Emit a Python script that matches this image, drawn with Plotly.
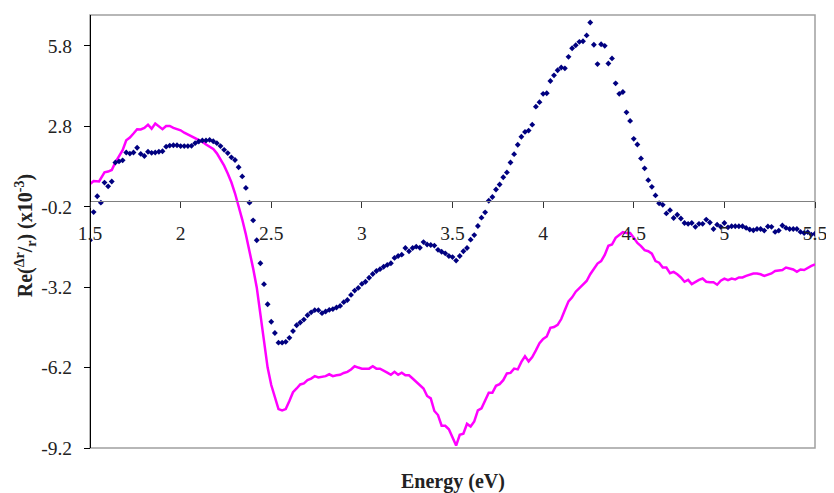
import plotly.graph_objects as go

# ---- Data ----
# Measured series (navy diamonds): energy grid 1.50 .. 5.50 step 0.02
meas_x = [round(1.50 + 0.02 * i, 2) for i in range(201)]
meas_y = [
    -1.45, -0.40, 0.19, -0.05, 0.70, 0.56, 0.74, 1.45, 1.49, 1.53,
    1.82, 1.78, 1.82, 2.00, 1.77, 1.69, 1.85, 1.81, 1.82, 1.85,
    1.87, 2.04, 2.08, 2.09, 2.09, 2.06, 2.06, 2.06, 2.07, 2.17,
    2.23, 2.27, 2.27, 2.29, 2.24, 2.17, 2.06, 1.92, 1.80, 1.64,
    1.54, 1.27, 0.93, 0.50, -0.05, -0.71, -1.45, -2.31, -3.09, -3.84,
    -4.49, -4.91, -5.27, -5.27, -5.24, -5.09, -4.84, -4.62, -4.52, -4.41,
    -4.25, -4.14, -4.06, -4.06, -4.17, -4.11, -4.05, -4.02, -3.96, -3.90,
    -3.76, -3.68, -3.49, -3.33, -3.23, -3.08, -3.00, -2.85, -2.71, -2.60,
    -2.53, -2.44, -2.37, -2.31, -2.11, -2.04, -1.99, -1.74, -1.86, -1.74,
    -1.69, -1.73, -1.52, -1.61, -1.63, -1.65, -1.81, -1.88, -1.94, -2.04,
    -2.08, -2.21, -2.04, -1.86, -1.74, -1.43, -1.26, -0.92, -0.61, -0.41,
    0.02, 0.16, 0.44, 0.63, 0.90, 1.08, 1.45, 1.76, 2.11, 2.41,
    2.59, 2.64, 2.86, 3.53, 3.70, 4.01, 4.03, 4.49, 4.70, 4.89,
    4.99, 4.96, 5.39, 5.71, 5.82, 5.95, 5.97, 6.19, 6.67, 5.84,
    5.12, 5.86, 5.80, 5.14, 5.33, 4.40, 4.01, 4.08, 3.32, 3.00,
    2.33, 2.12, 1.60, 1.23, 0.79, 0.54, 0.22, -0.07, -0.13, -0.45,
    -0.33, -0.62, -0.50, -0.64, -0.81, -0.84, -0.81, -0.95, -0.84, -0.84,
    -0.68, -0.79, -1.03, -0.87, -0.95, -0.81, -0.97, -0.93, -0.93, -0.93,
    -0.93, -0.99, -1.05, -1.08, -1.03, -1.03, -1.09, -0.94, -0.95, -1.14,
    -1.09, -0.90, -0.99, -1.03, -1.03, -1.03, -1.14, -1.18, -1.15, -1.24,
    -1.21,
]

# Calculated series (magenta line)
calc_x = [
    1.50, 1.52, 1.55, 1.57, 1.58, 1.60, 1.62, 1.64, 1.66, 1.68,
    1.70, 1.72, 1.74, 1.76, 1.78, 1.80, 1.82, 1.84, 1.86, 1.88,
    1.90, 1.92, 1.94, 1.96, 1.98, 2.00, 2.02, 2.04, 2.06, 2.08,
    2.10, 2.12, 2.14, 2.16, 2.18, 2.20, 2.22, 2.24, 2.26, 2.28,
    2.30, 2.32, 2.34, 2.36, 2.38, 2.40, 2.42, 2.44, 2.46, 2.48,
    2.50, 2.52, 2.54, 2.56, 2.58, 2.60, 2.62, 2.64, 2.66, 2.68,
    2.70, 2.72, 2.74, 2.76, 2.78, 2.80, 2.82, 2.84, 2.86, 2.88,
    2.90, 2.92, 2.94, 2.96, 2.98, 3.00, 3.02, 3.04, 3.06, 3.08,
    3.10, 3.12, 3.14, 3.16, 3.18, 3.20, 3.22, 3.24, 3.26, 3.28,
    3.30, 3.32, 3.34, 3.36, 3.38, 3.40, 3.42, 3.44, 3.46, 3.48,
    3.50, 3.52, 3.54, 3.56, 3.58, 3.60, 3.62, 3.64, 3.66, 3.68,
    3.70, 3.72, 3.74, 3.76, 3.78, 3.80, 3.82, 3.84, 3.86, 3.88,
    3.90, 3.92, 3.94, 3.96, 3.98, 4.00, 4.02, 4.04, 4.06, 4.08,
    4.10, 4.12, 4.14, 4.16, 4.18, 4.20, 4.22, 4.24, 4.26, 4.28,
    4.30, 4.32, 4.34, 4.36, 4.38, 4.40, 4.42, 4.44, 4.46, 4.48,
    4.50, 4.52, 4.54, 4.56, 4.58, 4.60, 4.62, 4.64, 4.66, 4.68,
    4.70, 4.72, 4.74, 4.76, 4.78, 4.80, 4.82, 4.84, 4.86, 4.88,
    4.90, 4.92, 4.94, 4.96, 4.98, 5.00, 5.02, 5.04, 5.06, 5.08,
    5.10, 5.12, 5.14, 5.16, 5.18, 5.20, 5.22, 5.24, 5.26, 5.28,
    5.30, 5.32, 5.34, 5.36, 5.38, 5.40, 5.42, 5.44, 5.46, 5.48,
    5.50,
]
calc_y = [
    0.64, 0.76, 0.74, 0.96, 1.08, 1.11, 1.17, 1.45, 1.66, 1.91,
    2.28, 2.38, 2.53, 2.69, 2.68, 2.74, 2.86, 2.71, 2.90, 2.81,
    2.69, 2.81, 2.81, 2.74, 2.69, 2.65, 2.56, 2.49, 2.43, 2.34,
    2.30, 2.22, 2.12, 2.03, 1.95, 1.79, 1.56, 1.33, 1.04, 0.71,
    0.30, -0.15, -0.68, -1.24, -1.85, -2.50, -3.21, -4.25, -5.30, -6.20,
    -6.85, -7.29, -7.75, -7.80, -7.75, -7.45, -7.12, -6.98, -6.83, -6.79,
    -6.67, -6.61, -6.52, -6.57, -6.54, -6.52, -6.45, -6.52, -6.49, -6.47,
    -6.40, -6.36, -6.27, -6.15, -6.20, -6.24, -6.24, -6.24, -6.15, -6.24,
    -6.24, -6.33, -6.39, -6.47, -6.36, -6.47, -6.39, -6.49, -6.49, -6.61,
    -6.73, -6.86, -6.98, -7.26, -7.35, -7.82, -7.97, -8.37, -8.37, -8.50,
    -8.79, -9.11, -8.71, -8.67, -8.30, -8.40, -8.21, -7.80, -7.72, -7.44,
    -7.14, -7.14, -6.88, -6.82, -6.67, -6.42, -6.40, -6.24, -6.27, -5.99,
    -5.78, -5.97, -5.81, -5.56, -5.29, -5.13, -5.04, -4.72, -4.69, -4.61,
    -4.39, -4.05, -3.73, -3.58, -3.37, -3.24, -3.11, -2.97, -2.72, -2.50,
    -2.32, -2.23, -2.00, -1.66, -1.61, -1.36, -1.24, -1.15, -1.18, -1.18,
    -1.36, -1.55, -1.67, -1.82, -1.86, -1.95, -2.23, -2.29, -2.47, -2.47,
    -2.68, -2.63, -2.72, -2.84, -3.00, -2.93, -3.09, -3.00, -2.93, -2.88,
    -3.00, -3.02, -3.02, -3.11, -2.96, -2.88, -2.94, -2.88, -2.91, -2.84,
    -2.84, -2.78, -2.74, -2.69, -2.69, -2.72, -2.78, -2.74, -2.69, -2.60,
    -2.57, -2.56, -2.47, -2.51, -2.54, -2.63, -2.54, -2.56, -2.47, -2.41,
    -2.35,
]

x_tickvals = [1.5, 2, 2.5, 3, 3.5, 4, 4.5, 5, 5.5]
x_ticktext = ["1.5", "2", "2.5", "3", "3.5", "4", "4.5", "5", "5.5"]
y_tickvals = [-9.2, -6.2, -3.2, -0.2, 2.8, 5.8]
y_ticktext = ["-9.2", "-6.2", "-3.2", "-0.2", "2.8", "5.8"]

Y_MIN, Y_MAX = -9.2, 6.95
X_MIN, X_MAX = 1.5, 5.5

FONT = "Liberation Serif, Times New Roman, serif"

fig = go.Figure()
fig.add_trace(go.Scatter(
    x=calc_x, y=calc_y, mode="lines",
    line=dict(color="#FF00FF", width=2.5),
    showlegend=False,
))
fig.add_trace(go.Scatter(
    x=meas_x, y=meas_y, mode="markers",
    marker=dict(symbol="diamond", size=4.5, color="#000080", line=dict(width=0)),
    showlegend=False,
))

zero_pos = (0 - Y_MIN) / (Y_MAX - Y_MIN)

# The page body has an 8px default margin; the figure size/margins compensate
fig.update_layout(
    width=826, height=485,
    margin=dict(l=82, r=13, t=7, b=45, pad=0),
    paper_bgcolor="white", plot_bgcolor="white",
    font=dict(family=FONT, size=19.5, color="#222"),
    xaxis=dict(
        range=[X_MIN, X_MAX], anchor="free", position=zero_pos,
        tickvals=x_tickvals, ticktext=x_ticktext,
        showgrid=False, zeroline=False,
        showline=True, linecolor="#808080", linewidth=1,
        ticks="outside", ticklen=6, tickcolor="#333", tickwidth=1,
        ticklabelstandoff=8,
        tickfont=dict(family=FONT, size=19.5, color="#222"),
    ),
    yaxis=dict(
        range=[Y_MIN, Y_MAX], anchor="free", position=0,
        tickvals=y_tickvals, ticktext=y_ticktext,
        showgrid=False, zeroline=False,
        showline=True, linecolor="#000", linewidth=1,
        ticks="outside", ticklen=6, tickcolor="#000", tickwidth=1,
        ticklabelstandoff=8,
        tickfont=dict(family=FONT, size=19.5, color="#222"),
    ),
    shapes=[dict(
        type="rect", xref="paper", yref="paper", x0=0, x1=1, y0=0, y1=1,
        line=dict(color="#A0A0A0", width=1.5), layer="below",
    )],
    annotations=[
        dict(text="<b>Energy (eV)</b>", xref="paper", yref="paper",
             x=0.5, y=-0.078, xanchor="center", yanchor="middle",
             showarrow=False, font=dict(family=FONT, size=20, color="#222")),
        dict(text="<b>Re(<sup>Δr</sup>/<sub>r</sub>) (x10<sup>-3</sup>)</b>",
             xref="paper", yref="paper", x=-0.089, y=0.49,
             xanchor="center", yanchor="middle", textangle=-90,
             showarrow=False, font=dict(family=FONT, size=20, color="#222")),
    ],
)

fig.write_html("out.html")
